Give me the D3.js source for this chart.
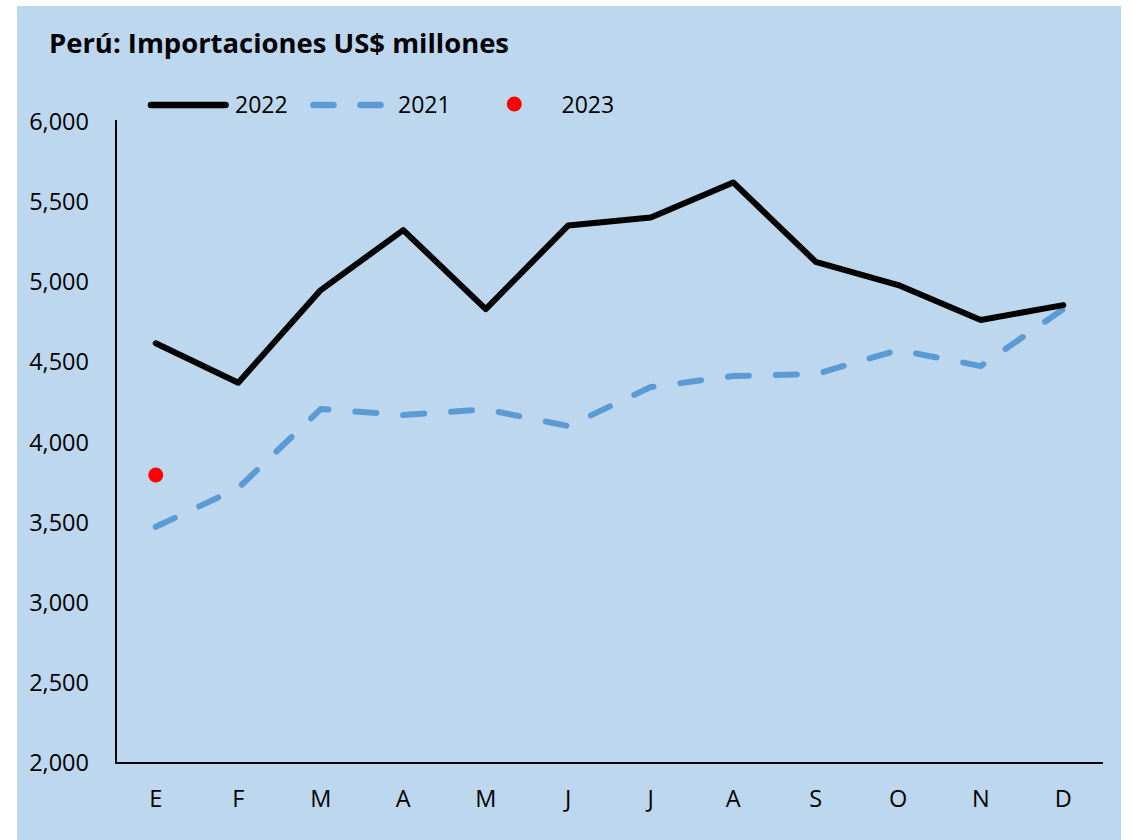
<!DOCTYPE html>
<html>
<head>
<meta charset="utf-8">
<script src="https://cdn.jsdelivr.net/npm/d3@7"></script>
<style>
  html, body { margin: 0; padding: 0; background: #ffffff; }
  svg { display: block; }
  text { font-family: "Open Sans", "Noto Sans", sans-serif; fill: #000; }
</style>
</head>
<body>
<svg id="chart" width="1132" height="840"></svg>
<script>
const months = ["E","F","M","A","M","J","J","A","S","O","N","D"];
const values2022 = [4617, 4371, 4949, 5323, 4830, 5352, 5402, 5620, 5125, 4980, 4762, 4855];
const values2021 = [3473, 3714, 4207, 4170, 4205, 4101, 4344, 4413, 4425, 4575, 4475, 4830];
const values2023 = [3796];
const yTicks = [2000, 2500, 3000, 3500, 4000, 4500, 5000, 5500, 6000];
const titleText = "Perú: Importaciones US$ millones";
const legendLabels = ["2022", "2021", "2023"];

const svg = d3.select("#chart");

svg.append("rect").attr("x", 17).attr("y", 6).attr("width", 1104).attr("height", 834)
  .attr("fill", "#BDD7EE");

const idx = months.map((m, i) => i);
const x = d3.scaleBand().domain(idx).range([114.5, 1104.5]).padding(0);
const y = d3.scaleLinear().domain([2000, 6000]).range([763, 121.5]);
const cx = i => x(i) + x.bandwidth() / 2;

// axes
const yAxis = d3.axisLeft(y).tickValues(yTicks).tickSize(0).tickPadding(27)
  .tickFormat(d3.format(","));
const gy = svg.append("g").attr("transform", "translate(116,0)").call(yAxis);
gy.select(".domain").attr("stroke", "#000").attr("stroke-width", 2)
  .attr("d", `M0,${y(6000) - 1.5}V${y(2000)}`);
gy.selectAll("text").attr("font-size", 23.5).attr("font-family", '"Open Sans", sans-serif')
  .attr("fill", "#000").attr("dy", "0.33em");

const xAxis = d3.axisBottom(x).tickSize(0).tickPadding(27).tickFormat(i => months[i]);
const gx = svg.append("g").attr("transform", "translate(0,763)").call(xAxis);
gx.select(".domain").attr("stroke", "#000").attr("stroke-width", 2)
  .attr("d", "M115,0H1103");
gx.selectAll("text").attr("font-size", 23.5).attr("font-family", '"Open Sans", sans-serif')
  .attr("fill", "#000");

// lines
const line = d3.line().x((d, i) => cx(i)).y(d => y(d));
svg.append("path").datum(values2021).attr("d", line)
  .attr("fill", "none").attr("stroke", "#5B9BD5").attr("stroke-width", 6)
  .attr("stroke-linecap", "round").attr("stroke-linejoin", "round")
  .attr("stroke-dasharray", "21,27");
svg.append("path").datum(values2022).attr("d", line)
  .attr("fill", "none").attr("stroke", "#000").attr("stroke-width", 6)
  .attr("stroke-linecap", "round").attr("stroke-linejoin", "round");
svg.selectAll("circle.p2023").data(values2023).enter().append("circle")
  .attr("class", "p2023")
  .attr("cx", (d, i) => cx(i)).attr("cy", d => y(d)).attr("r", 7.5)
  .attr("fill", "#FF0000");

// title
svg.append("text").attr("x", 49).attr("y", 52.5).text(titleText)
  .attr("font-size", 27).attr("font-weight", "bold")
  .attr("textLength", 460).attr("lengthAdjust", "spacingAndGlyphs");

// legend
const lg = svg.append("g");
lg.append("line").attr("x1", 151).attr("x2", 225.5).attr("y1", 105).attr("y2", 105)
  .attr("stroke", "#000").attr("stroke-width", 6.5).attr("stroke-linecap", "round");
lg.append("text").attr("x", 235).attr("y", 112.5).attr("font-size", 23).text(legendLabels[0]);
lg.append("line").attr("x1", 313.5).attr("x2", 381).attr("y1", 105).attr("y2", 105)
  .attr("stroke", "#5B9BD5").attr("stroke-width", 6.5).attr("stroke-linecap", "round")
  .attr("stroke-dasharray", "20,27");
lg.append("text").attr("x", 398).attr("y", 112.5).attr("font-size", 23).text(legendLabels[1]);
lg.append("circle").attr("cx", 514.3).attr("cy", 104).attr("r", 7.5).attr("fill", "#FF0000");
lg.append("text").attr("x", 561.5).attr("y", 112.5).attr("font-size", 23).text(legendLabels[2]);
</script>
</body>
</html>
